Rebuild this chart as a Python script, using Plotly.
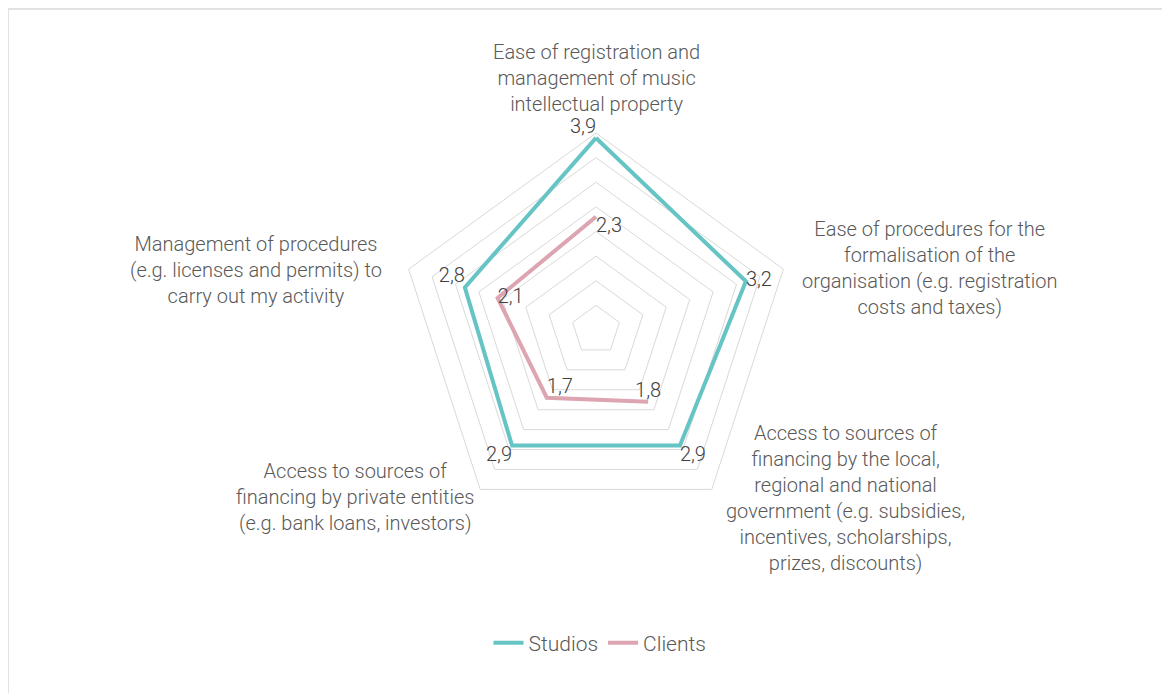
import plotly.graph_objects as go

# ----------------------------------------------------------------------
# Data
# ----------------------------------------------------------------------
categories = [
    "Ease of registration and<br>management of music<br>intellectual property",
    "Ease of procedures for the<br>formalisation of the<br>organisation (e.g. registration<br>costs and taxes)",
    "Access to sources of<br>financing by the local,<br>regional and national<br>government (e.g. subsidies,<br>incentives, scholarships,<br>prizes, discounts)",
    "Access to sources of<br>financing by private entities<br>(e.g. bank loans, investors)",
    "Management of procedures<br>(e.g. licenses and permits) to<br>carry out my activity",
]
studios = [3.9, 3.2, 2.9, 2.9, 2.8]
clients = [2.3, None, 1.8, 1.7, 2.1]   # no value for the 2nd axis -> gap in the line

series_names = ["Studios", "Clients"]
series_colors = ["#67C4C5", "#DDA4B1"]

FONT = "Roboto"
TXT = "#595959"

# label placement for each category (page pixels) - layout only
cat_pos = [(596, 78), (930, 268), (845, 498), (355, 497), (256, 270)]
studio_textpos = ["top left", "middle right", "bottom right", "bottom left", "top left"]
client_textpos = ["bottom right", "middle right", "top center", "top right", "middle right"]

W, H = 1170, 693
OFF = 8                        # page body margin of the html
cx, cy, rad = 596, 330, 197    # polar centre / radius in page pixels


def px_x(x):
    return (x - OFF) / W


def px_y(y):
    return 1 - (y - OFF) / H


def fmt(v):
    return "" if v is None else f"{v:.1f}".replace(".", ",")


def closed(vals):
    return vals + vals[:1]


theta = [f"c{i}" for i in range(len(categories))]

fig = go.Figure()

for name, vals, col, tpos in [
    (series_names[0], studios, series_colors[0], studio_textpos),
    (series_names[1], clients, series_colors[1], client_textpos),
]:
    fig.add_trace(go.Scatterpolar(
        r=closed(vals), theta=closed(theta),
        mode="lines+text",
        text=[fmt(v) for v in vals] + [""],
        textposition=closed(tpos),
        textfont=dict(family=FONT, size=20, color="#404040", weight=300),
        line=dict(color=col, width=4),
        connectgaps=False,
        name=name,
        hoverinfo="skip",
    ))

# category labels
for txt, (px, py) in zip(categories, cat_pos):
    fig.add_annotation(
        x=px_x(px), y=px_y(py), xref="paper", yref="paper",
        text=txt, showarrow=False, align="center",
        xanchor="center", yanchor="middle",
        font=dict(family=FONT, size=20, color=TXT, weight=300),
    )

# chart-area border (cropped on right/bottom in the reference)
fig.add_shape(type="rect", xref="paper", yref="paper",
              x0=px_x(8), x1=1.05, y0=-0.05, y1=px_y(9),
              line=dict(color="#D9D9D9", width=1.5), fillcolor="rgba(0,0,0,0)")

fig.update_layout(
    width=W, height=H,
    margin=dict(l=0, r=0, t=0, b=0),
    paper_bgcolor="white", plot_bgcolor="white",
    font=dict(family=FONT, color=TXT),
    polar=dict(
        domain=dict(x=[px_x(cx - rad), px_x(cx + rad)],
                    y=[px_y(cy + rad), px_y(cy - rad)]),
        gridshape="linear",
        bgcolor="white",
        radialaxis=dict(range=[0, 4], dtick=0.5, showticklabels=False,
                        ticks="", showline=False,
                        gridcolor="#D9D9D9", gridwidth=1),
        angularaxis=dict(direction="clockwise", rotation=90,
                         showticklabels=False, ticks="", showgrid=False,
                         showline=True, linecolor="#D9D9D9", linewidth=1),
    ),
    showlegend=True,
    legend=dict(orientation="h", x=px_x(600), xanchor="center",
                y=px_y(643), yanchor="middle",
                font=dict(family=FONT, size=21, color=TXT, weight=300),
                itemwidth=30, bgcolor="rgba(0,0,0,0)"),
)

fig.write_html("out.html")
